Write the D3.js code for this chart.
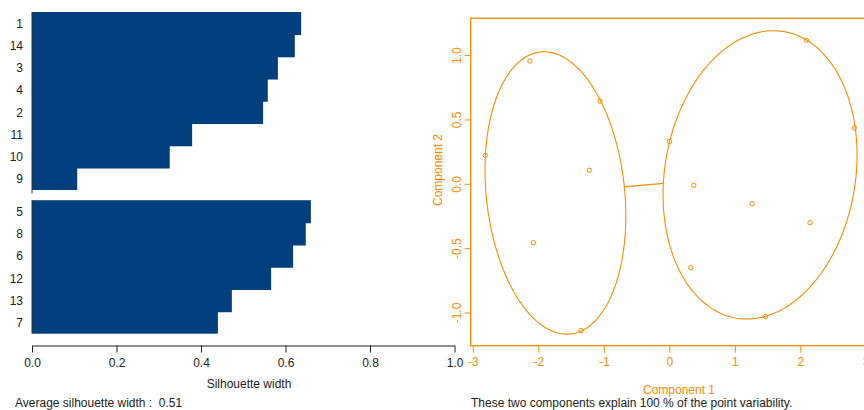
<!DOCTYPE html>
<html><head><meta charset="utf-8">
<script src="https://cdn.jsdelivr.net/npm/d3@7"></script>
<style>
html,body{margin:0;padding:0;background:#fff;}
svg{display:block;font-family:"Liberation Sans",Arial,sans-serif;}
</style></head>
<body>
<svg id="chart" width="864" height="410"></svg>
<script>
// ---- Silhouette data ----
const silLabels = ["1","14","3","4","2","11","10","9","5","8","6","12","13","7"];
const silCluster = [1,1,1,1,1,1,1,1,2,2,2,2,2,2];
const silWidth = [0.637,0.622,0.582,0.558,0.547,0.379,0.326,0.107,0.660,0.648,0.618,0.566,0.473,0.440];
const silTicks = [0,0.2,0.4,0.6,0.8,1.0];

// ---- Cluster plot data ----
const comp1 = [-2.809,-2.127,-1.058,-1.221,-2.076,-1.348, 0.003,2.092,2.824,0.373,1.263,2.148,0.327,1.466];
const comp2 = [0.221,0.954,0.643,0.105,-0.458,-1.141, 0.329,1.115,0.434,-0.012,-0.155,-0.302,-0.652,-1.033];
const ptCluster = [1,1,1,1,1,1,2,2,2,2,2,2,2,2];
const ellCx = [-1.739, 1.385];
const ellCy = [-0.071, 0.0695];
const ellSxx = [1.155, 2.193];
const ellSyy = [1.2037, 1.2545];
const ellSxy = [-0.191, 0.2274];
const pcXTicks = [-3,-2,-1,0,1,2,3];
const pcYTicks = [-1,-0.5,0,0.5,1];

const svg = d3.select("#chart");
const BLUE = "#013f7e";
const ORANGE = "#ff8c00";
const TXT = "#222";

// ===== Left: silhouette plot =====
const sx = d3.scaleLinear().domain([0,1]).range([32,454.5]);
const gapUnits = 0.46;
const pos = silLabels.map((d,i)=> silCluster[i]===1 ? i : i + gapUnits);
const sy = d3.scaleLinear().domain([0, silLabels.length + gapUnits]).range([12, 333.7]);

const gL = svg.append("g");
gL.selectAll("rect.bar").data(silWidth).join("rect")
  .attr("class","bar")
  .attr("x", sx(0))
  .attr("y", (d,i)=> sy(pos[i]))
  .attr("width", d=> sx(d)-sx(0))
  .attr("height", (d,i)=> {
    const h = sy(pos[i]+1)-sy(pos[i]);
    const lastInCluster = (i === silLabels.length-1) || silCluster[i+1] !== silCluster[i];
    return lastInCluster ? h : h + 0.8;
  })
  .attr("fill", BLUE)
  .attr("stroke", "none");

// left edge lines
const c1n = silCluster.filter(c=>c===1).length;
gL.append("line").attr("x1",sx(0)).attr("x2",sx(0))
  .attr("y1",sy(0)).attr("y2",sy(c1n)+3.5)
  .attr("stroke","#333").attr("stroke-width",1);
gL.append("line").attr("x1",sx(0)).attr("x2",sx(0))
  .attr("y1",sy(c1n+gapUnits)).attr("y2",sy(silLabels.length+gapUnits))
  .attr("stroke","#333").attr("stroke-width",1);

gL.selectAll("text.lab").data(silLabels).join("text")
  .attr("class","lab")
  .attr("x", 23)
  .attr("y", (d,i)=> sy(pos[i]+0.5)+4.5)
  .attr("text-anchor","end")
  .attr("font-size",12)
  .attr("fill",TXT)
  .text(d=>d);

const axL = d3.axisBottom(sx).tickValues(silTicks).tickFormat(d3.format(".1f"))
  .tickSize(7).tickSizeOuter(0).tickPadding(6);
const gAxL = svg.append("g").attr("transform","translate(0,345.5)").call(axL);
gAxL.select(".domain").attr("stroke","#222");
gAxL.selectAll(".tick line").attr("stroke","#222");
gAxL.selectAll(".tick text").attr("font-size",12).attr("fill",TXT)
  .attr("font-family","Liberation Sans,Arial,sans-serif");

svg.append("text").attr("x",249).attr("y",388).attr("text-anchor","middle")
  .attr("font-size",12).attr("fill",TXT).text("Silhouette width");

const avg = d3.mean(silWidth);
svg.append("text").attr("x",15).attr("y",407).attr("font-size",12).attr("fill",TXT)
  .attr("xml:space","preserve").style("white-space","pre")
  .text("Average silhouette width :  " + d3.format(".2f")(avg));

// ===== Right: clusplot =====
const px = d3.scaleLinear().domain([-3.032, 3.3]).range([470.7, 885.5]);
const py = d3.scaleLinear().domain([-1.258, 1.286]).range([345.7, 18.3]);

const gR = svg.append("g");
// box (left, top, bottom; right edge is off-canvas)
gR.append("rect").attr("x",px.range()[0]).attr("y",py.range()[1])
  .attr("width",px.range()[1]-px.range()[0]).attr("height",py.range()[0]-py.range()[1])
  .attr("fill","none").attr("stroke",ORANGE).attr("stroke-width",1.3);

// ellipses
const lineGen = d3.line().x(d=>px(d[0])).y(d=>py(d[1]));
function ellPts(k){
  const a = Math.sqrt(ellSxx[k]);
  const b = ellSxy[k]/a;
  const c = Math.sqrt(ellSyy[k] - b*b);
  return d3.range(0, 361, 2).map(deg=>{
    const t = deg*Math.PI/180;
    const u = Math.cos(t), v = Math.sin(t);
    return [ellCx[k] + a*u, ellCy[k] + b*u + c*v];
  });
}
[0,1].forEach(k=>{
  gR.append("path").attr("d", lineGen(ellPts(k)))
    .attr("fill","none").attr("stroke",ORANGE).attr("stroke-width",1.1);
});

// connecting segment between ellipse boundaries
function boundary(k, dx, dy){
  const det = ellSxx[k]*ellSyy[k] - ellSxy[k]*ellSxy[k];
  const q = (ellSyy[k]*dx*dx - 2*ellSxy[k]*dx*dy + ellSxx[k]*dy*dy)/det;
  const t = 1/Math.sqrt(q);
  return [ellCx[k] + dx*t, ellCy[k] + dy*t];
}
const ddx = ellCx[1]-ellCx[0], ddy = ellCy[1]-ellCy[0];
const pA = boundary(0, ddx, ddy), pB = boundary(1, -ddx, -ddy);
gR.append("path").attr("d", lineGen([pA,pB]))
  .attr("fill","none").attr("stroke",ORANGE).attr("stroke-width",1.1);

// points
gR.selectAll("circle.pt").data(comp1).join("circle")
  .attr("class","pt")
  .attr("cx", d=>px(d))
  .attr("cy", (d,i)=>py(comp2[i]))
  .attr("r", 2.2)
  .attr("fill","none").attr("stroke",ORANGE).attr("stroke-width",1);

// x axis
const axX = d3.axisBottom(px).tickValues(pcXTicks).tickFormat(d3.format("d"))
  .tickSize(7).tickSizeOuter(0).tickPadding(5);
const gAxX = svg.append("g").attr("transform","translate(0,345.7)").call(axX);
gAxX.select(".domain").remove();
gAxX.selectAll(".tick line").attr("stroke",ORANGE);
gAxX.selectAll(".tick text").attr("font-size",12).attr("fill",ORANGE)
  .attr("font-family","Liberation Sans,Arial,sans-serif")
  .text(d=> d<0 ? "-"+Math.abs(d) : String(d));

// y axis
const axY = d3.axisLeft(py).tickValues(pcYTicks).tickFormat(d3.format(".1f"))
  .tickSize(6).tickSizeOuter(0);
const gAxY = svg.append("g").attr("transform","translate(470.7,0)").call(axY);
gAxY.select(".domain").remove();
gAxY.selectAll(".tick line").attr("stroke",ORANGE);
gAxY.selectAll(".tick text")
  .attr("font-size",12).attr("fill",ORANGE)
  .attr("font-family","Liberation Sans,Arial,sans-serif")
  .attr("x",null).attr("dy",null)
  .attr("text-anchor","middle")
  .attr("transform","translate(-10,0) rotate(-90)")
  .attr("y",0)
  .text(d=> d3.format(".1f")(d).replace("−","-"));

// axis titles
svg.append("text").attr("x",679).attr("y",394).attr("text-anchor","middle")
  .attr("font-size",12).attr("fill",ORANGE).text("Component 1");
svg.append("text").attr("transform","translate(442,170) rotate(-90)")
  .attr("text-anchor","middle").attr("font-size",12).attr("fill",ORANGE).text("Component 2");
svg.append("text").attr("x",471).attr("y",407)
  .attr("font-size",12).attr("fill",TXT)
  .text("These two components explain 100 % of the point variability.");
</script>
</body></html>
